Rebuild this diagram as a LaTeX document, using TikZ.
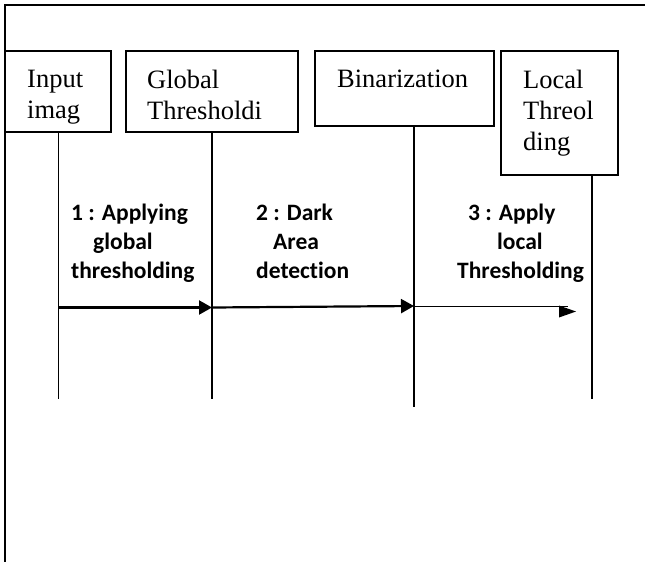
\documentclass[tikz,border=0pt]{standalone}
\usepackage{fontspec}
\setmainfont{Liberation Serif}
\newfontfamily\lblfont[Ligatures={NoCommon}]{Carlito}
\usetikzlibrary{arrows.meta}
\begin{document}
\begin{tikzpicture}[x=1pt,y=-1pt,
  boxstyle/.style={draw,line width=1.4pt,inner sep=0pt,outer sep=0pt,anchor=north west},
  boxtext/.style={anchor=north west,inner sep=0pt,align=left,font=\fontsize{26.5}{31}\selectfont},
  msgtext/.style={anchor=north west,inner sep=0pt,align=left,font=\lblfont\bfseries\fontsize{23.5}{29}\selectfont},
  lifeline/.style={line width=1.3pt},
  msgthick/.style={line width=2.2pt,-{Triangle[length=13pt,width=14pt]}},
  msgthin/.style={line width=0.9pt}]
\useasboundingbox (0,0) rectangle (645,562);
% frame
\draw[line width=1.7pt] (645,5) -- (5,5) -- (5,562);
% boxes
\node[boxstyle,minimum width=105.5pt,minimum height=81pt] (b1) at (5.5,51) {};
\node[boxstyle,minimum width=172pt,minimum height=81pt] (b2) at (126,51) {};
\node[boxstyle,minimum width=179pt,minimum height=75pt] (b3) at (315,51) {};
\node[boxstyle,minimum width=117pt,minimum height=124pt] (b4) at (501,51) {};
% box texts
\node[boxtext] (t1) at (27,70) {Input\\imag};
\node[boxtext] (t2) at (147,70) {Global\\Thresholdi};
\node[boxtext] (t3) at (337,70) {Binarization};
\node[boxtext] (t4) at (523,70) {Local\\Threol\\ding};
% lifeline ends
\coordinate (e1) at (58.25,399);
\coordinate (e2) at (212,399);
\coordinate (e3) at (414,407);
\coordinate (e4) at (592,399);
\draw[lifeline] (b1.south) -- (e1);
\draw[lifeline] (b2.south) -- (e2);
\draw[lifeline] (b3.south -| e3) -- (e3);
\draw[lifeline] (b4.south -| e4) -- (e4);
% message points
\coordinate (m1) at (58.25,307.5);
\coordinate (m2) at (212,307.5);
\coordinate (m2b) at (212,307.5);
\coordinate (m3) at (414,306);
\coordinate (m4) at (568,306);
\draw[msgthick] (m1) -- (m2);
\draw[msgthick] (m2b) -- (m3);
\draw[msgthin] (m3) -- (m4);
\fill (559,305.5) -- (576,311.5) -- (559,317.5) -- cycle;
% message labels
\node[msgtext] (l1) at (71,204) {1 : Applying\\\hspace*{22pt}global\\thresholding};
\node[msgtext] (l2) at (256,204) {2 : Dark\\\hspace*{17pt}Area\\detection};
\node[msgtext] (l3) at (457,204) {\hspace*{11pt}3 : Apply\\\hspace*{40pt}local\\Thresholding};
\end{tikzpicture}
\end{document}
